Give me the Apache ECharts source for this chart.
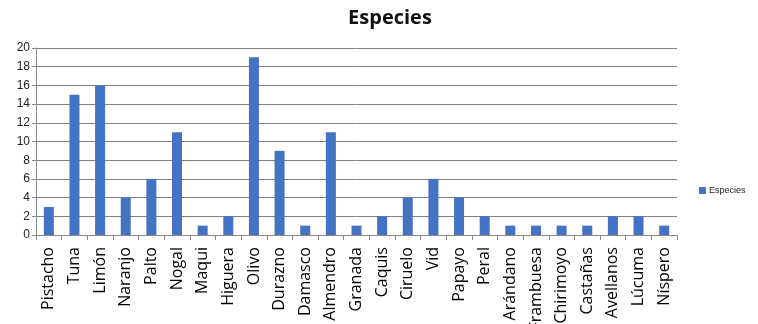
<!DOCTYPE html>
<html>
<head>
<meta charset="utf-8">
<script src="https://cdn.jsdelivr.net/npm/echarts@6/dist/echarts.min.js"></script>
<style>
  html, body { margin: 0; padding: 0; background: #fff; }
  #chart { width: 758px; height: 324px; }
</style>
</head>
<body>
<div id="chart"></div>
<script>
// categories and values
var especies = ['Pistacho', 'Tuna', 'Limón', 'Naranjo', 'Palto', 'Nogal', 'Maqui', 'Higuera', 'Olivo',
  'Durazno', 'Damasco', 'Almendro', 'Granada', 'Caquis', 'Ciruelo', 'Vid', 'Papayo', 'Peral',
  'Arándano', 'Frambuesa', 'Chirimoyo', 'Castañas', 'Avellanos', 'Lúcuma', 'Níspero']
var cantidad = [3, 15, 16, 4, 6, 11, 1, 2, 19, 9, 1, 11, 1, 2, 4, 6, 4, 2, 1, 1, 1, 1, 2, 2, 1]

var chart = echarts.init(document.getElementById('chart'))
chart.setOption({
  animation: false,
  title: {
    text: 'Especies',
    left: 385,
    top: 3,
    textAlign: 'center',
    textStyle: { fontFamily: 'Open Sans', fontSize: 20, fontWeight: 'bold', color: '#111' }
  },
  legend: {
    data: ['Especies'],
    orient: 'vertical',
    left: 694,
    top: 181,
    itemWidth: 7,
    itemHeight: 7,
    itemGap: 4,
    icon: 'rect',
    textStyle: { fontFamily: 'Liberation Sans', fontSize: 9, color: '#222', padding: [0, 0, 0, -2] }
  },
  grid: {
    left: 36,
    right: 81,
    top: 48,
    bottom: 89,
    containLabel: false,
    outerBoundsMode: 'none'
  },
  xAxis: {
    type: 'category',
    data: especies,
    axisLine: { lineStyle: { color: '#888' } },
    axisTick: { show: true, length: 5, lineStyle: { color: '#888' } },
    axisLabel: {
      rotate: 90,
      interval: 0,
      margin: 12,
      fontFamily: 'Open Sans',
      fontSize: 16,
      color: '#000'
    }
  },
  yAxis: {
    type: 'value',
    min: 0,
    max: 20,
    interval: 2,
    axisLine: { show: true, lineStyle: { color: '#888' } },
    axisTick: { show: true, length: 4, lineStyle: { color: '#888' } },
    axisLabel: { fontFamily: 'Liberation Sans', fontSize: 12, color: '#222', margin: 6 },
    splitLine: { lineStyle: { color: '#808080', width: 1 } }
  },
  series: [
    {
      name: 'Especies',
      type: 'bar',
      data: cantidad,
      barWidth: 10,
      itemStyle: { color: '#4472c4' }
    }
  ]
})
</script>
</body>
</html>
